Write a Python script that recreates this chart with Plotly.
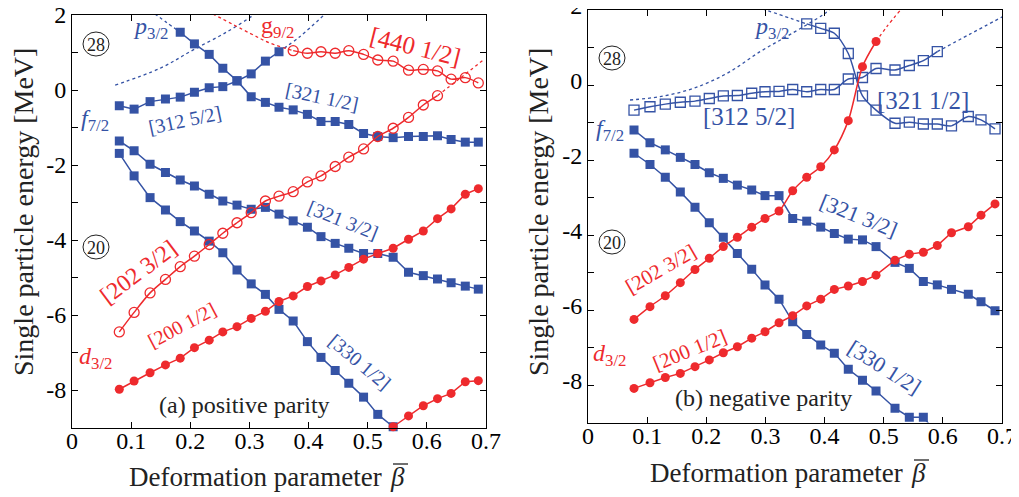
import plotly.graph_objects as go

# ---------------- data ----------------
BETA_L = [0.080, 0.105, 0.132, 0.158, 0.183, 0.207, 0.232, 0.255, 0.279, 0.303,
          0.327, 0.350, 0.374, 0.398, 0.421, 0.445, 0.468, 0.493, 0.517, 0.543,
          0.569, 0.594, 0.618, 0.641, 0.665, 0.687]
BETA_R = [0.0778, 0.1048, 0.1307, 0.1561, 0.1809, 0.2051, 0.2288, 0.2525, 0.2768, 0.2993,
          0.3230, 0.3461, 0.3698, 0.3935, 0.4165, 0.4401, 0.4641, 0.4870, 0.5191, 0.5433,
          0.5670, 0.5906, 0.6146, 0.6430, 0.6645, 0.6882]

# (a) positive parity
L_200_12 = [-7.98, -7.76, -7.54, -7.33, -7.15, -6.87, -6.67, -6.45, -6.31, -6.09, -5.90, -5.64, -5.49,
            -5.24, -5.09, -4.93, -4.73, -4.51, -4.36, -4.22, -3.98, -3.76, -3.43, -3.17, -2.78, -2.63]
L_LOW_RED = [-8.98, -8.69, -8.42, -8.23, -8.09, -7.78, -7.75]          # beta index 19..25
L_330_12 = [-1.69, -2.29, -2.87, -3.20, -3.51, -3.76, -4.03, -4.34, -4.80, -5.17, -5.45, -5.85,
            -6.16, -6.71, -7.13, -7.48, -7.82, -8.19, -8.65, -8.98]       # index 0..19
L_321_32 = [-1.36, -1.62, -1.98, -2.20, -2.40, -2.56, -2.78, -2.96, -3.07, -3.18, -3.13, -3.31, -3.49,
            -3.66, -3.91, -4.09, -4.22, -4.36, -4.36, -4.46, -4.86, -4.95, -5.04, -5.14, -5.23, -5.31]
L_312_52 = [-0.42, -0.51, -0.31, -0.24, -0.19, -0.06, 0.06, 0.09, 0.24, 0.43, 0.77, 1.02]   # 0..11
L_321_12 = [1.54, 1.23, 0.95, 0.58, 0.25, -0.18, -0.33, -0.46, -0.53, -0.65, -0.84, -0.84, -0.92,
            -1.16, -1.24, -1.27, -1.24, -1.24, -1.22, -1.32, -1.39, -1.39]               # 4..25
L_440_12 = [1.05, 0.98, 1.02, 0.98, 1.05, 0.95, 0.80, 0.77, 0.53, 0.55, 0.51, 0.29, 0.33, 0.19]  # 12..25
L_202_32 = [-6.45, -5.93, -5.41, -5.05, -4.71, -4.43, -4.12, -3.82, -3.54, -3.27, -2.96, -2.83,
            -2.71, -2.45, -2.29, -2.04, -1.79, -1.57, -1.24, -1.02, -0.73, -0.40, -0.15]  # 0..22

# dotted (continuation) curves, panel (a)
DL_F72_X = [0.073, 0.149, 0.205, 0.262, 0.304, 0.308]
DL_F72_Y = [0.13, 0.58, 1.07, 1.55, 1.97, 2.03]
DL_P32_X = [0.140, 0.160, 0.183]
DL_P32_Y = [2.03, 1.80, 1.54]
DL_UP_X = [0.350, 0.385, 0.428]
DL_UP_Y = [1.02, 1.42, 2.03]
DL_G92_X = [0.238, 0.300, 0.335, 0.374]
DL_G92_Y = [2.03, 1.52, 1.25, 1.05]
DL_202_X = [0.618, 0.655, 0.697]
DL_202_Y = [-0.15, 0.30, 0.82]

# (b) negative parity
R_312_52 = [-0.67, -0.58, -0.51, -0.46, -0.43, -0.36, -0.29, -0.28, -0.22, -0.18, -0.17, -0.12,
            -0.18, -0.12, -0.12, 0.16, 0.20, 0.44, 0.40, 0.52, 0.65, 0.89]              # 0..21
R_321_12 = [1.63, 1.51, 1.38, 0.84, -0.29, -0.67, -1.02, -0.99, -1.04, -1.04, -1.09, -0.84,
            -0.93, -1.17]                                                                  # 12..25
R_202_32 = [-6.25, -5.91, -5.62, -5.27, -4.92, -4.62, -4.31, -4.06, -3.79, -3.56, -3.36, -2.82,
            -2.46, -2.18, -1.73, -0.95, 0.49, 1.16]                                        # 0..17
R_321_32 = [-1.20, -1.54, -1.73, -1.93, -2.12, -2.34, -2.49, -2.67, -2.80, -2.95, -2.95, -3.56,
            -3.63, -3.79, -3.96, -4.11, -4.13, -4.31, -4.73, -4.89, -5.24, -5.33, -5.45, -5.58,
            -5.78, -6.02]
R_330_12 = [-1.82, -2.12, -2.46, -2.85, -3.26, -3.67, -4.06, -4.49, -4.91, -5.33, -5.71, -6.31,
            -6.65, -6.93, -7.15, -7.58, -7.87, -8.16, -8.62, -8.86, -8.86, -9.30]          # 0..21
R_200_12 = [-8.09, -7.94, -7.80, -7.69, -7.51, -7.33, -7.14, -6.98, -6.75, -6.58, -6.34, -6.15,
            -5.89, -5.71, -5.45, -5.36, -5.24, -5.07, -4.67, -4.51, -4.46, -4.28, -3.94, -3.78,
            -3.47, -3.17]

DR_F72_X = [0.071, 0.122, 0.178, 0.235, 0.291, 0.342, 0.397, 0.410]
DR_F72_Y = [-0.40, -0.31, -0.09, 0.31, 0.89, 1.35, 1.87, 2.03]
DR_P32_X = [0.295, 0.342, 0.3698]
DR_P32_Y = [2.03, 1.78, 1.63]
DR_UP_X = [0.5906, 0.645, 0.702]
DR_UP_Y = [0.89, 1.35, 1.83]
DR_202_X = [0.487, 0.505, 0.530]
DR_202_Y = [1.16, 1.55, 2.03]

X_TICKS = [0, 0.1, 0.2, 0.3, 0.4, 0.5, 0.6, 0.7]
X_LABELS = ["0", "0.1", "0.2", "0.3", "0.4", "0.5", "0.6", "0.7"]
Y_TICKS = [-8, -7, -6, -5, -4, -3, -2, -1, 0, 1, 2]
Y_LABELS = ["-8", "", "-6", "", "-4", "", "-2", "", "0", "", "2"]

# ---------------- style ----------------
BLUE = "#3553A5"
RED = "#EE2A2D"
SERIF = "Liberation Serif"
# the page body adds an 8 px margin, so the figure is drawn 8 px smaller and
# all layout positions (given in window pixels) are shifted by that margin
OFF = 8
W, H = 1019 - OFF, 497 - OFF


def fx(px):
    return (px - OFF) / W


def fy(py):
    return 1 - (py - OFF) / H


fig = go.Figure()


def series(xs, ys, panel, color, symbol, shape="linear", size=9, clip=False):
    xa, ya = ("x", "y") if panel == 1 else ("x2", "y2")
    is_open = symbol.endswith("-open")
    fig.add_trace(go.Scatter(
        x=xs, y=ys, xaxis=xa, yaxis=ya, mode="lines+markers",
        line=dict(color=color, width=1.5, shape=shape, smoothing=0.8),
        marker=dict(symbol=symbol, size=size, color=color,
                    line=dict(color=color, width=1.3 if is_open else 0)),
        cliponaxis=clip, showlegend=False, hoverinfo="skip"))


def dotted(xs, ys, panel, color):
    xa, ya = ("x", "y") if panel == 1 else ("x2", "y2")
    fig.add_trace(go.Scatter(
        x=xs, y=ys, xaxis=xa, yaxis=ya, mode="lines",
        line=dict(color=color, width=1.3, dash="3px,3px", shape="spline"),
        showlegend=False, hoverinfo="skip"))


# panel (a)
dotted(DL_F72_X, DL_F72_Y, 1, BLUE)
dotted(DL_P32_X, DL_P32_Y, 1, BLUE)
dotted(DL_UP_X, DL_UP_Y, 1, BLUE)
dotted(DL_G92_X, DL_G92_Y, 1, RED)
dotted(DL_202_X, DL_202_Y, 1, RED)
series(BETA_L[0:12], L_312_52, 1, BLUE, "square")
series(BETA_L[4:26], L_321_12, 1, BLUE, "square")
series(BETA_L, L_321_32, 1, BLUE, "square")
series(BETA_L[0:20], L_330_12, 1, BLUE, "square")
series(BETA_L, L_200_12, 1, RED, "circle")
series(BETA_L[19:26], L_LOW_RED, 1, RED, "circle")
series(BETA_L[12:26], L_440_12, 1, RED, "circle-open", shape="spline", size=10)
series(BETA_L[0:23], L_202_32, 1, RED, "circle-open", shape="spline", size=10)

# panel (b)
dotted(DR_F72_X, DR_F72_Y, 2, BLUE)
dotted(DR_P32_X, DR_P32_Y, 2, BLUE)
dotted(DR_UP_X, DR_UP_Y, 2, BLUE)
dotted(DR_202_X, DR_202_Y, 2, RED)
series(BETA_R[0:22], R_312_52, 2, BLUE, "square-open", shape="spline", size=10)
series(BETA_R[12:26], R_321_12, 2, BLUE, "square-open", shape="spline", size=10)
series(BETA_R, R_321_32, 2, BLUE, "square")
series(BETA_R[0:22], R_330_12, 2, BLUE, "square", clip=True)
series(BETA_R, R_200_12, 2, RED, "circle")
series(BETA_R[0:18], R_202_32, 2, RED, "circle", shape="spline")


# ---------------- axes ----------------
def xaxis(domain, anchor):
    return dict(domain=domain, anchor=anchor, range=[0, 0.7], tickvals=X_TICKS, ticktext=X_LABELS,
                ticks="inside", ticklen=6, tickwidth=1, tickcolor="black", mirror="ticks",
                showline=True, linecolor="black", linewidth=1, showgrid=False, zeroline=False,
                automargin=False, ticklabeloverflow="allow", ticklabelstandoff=-8,
                tickfont=dict(family=SERIF, size=24, color="black"))


def yaxis(domain, anchor, shift=0):
    return dict(domain=domain, anchor=anchor, range=[-9, 2], tickvals=Y_TICKS, ticktext=Y_LABELS,
                ticks="inside", ticklen=6, tickwidth=1, tickcolor="black", mirror="ticks",
                showline=True, linecolor="black", linewidth=1, showgrid=False, zeroline=False,
                automargin=False, ticklabeloverflow="allow", ticklabelshift=shift,
                tickfont=dict(family=SERIF, size=24, color="black"))


ann = []
shapes = []


def label(text, x, y, panel, color, size=20, angle=0):
    ann.append(dict(text=text, x=x, y=y, xref="x" if panel == 1 else "x2",
                    yref="y" if panel == 1 else "y2", showarrow=False, textangle=angle,
                    xanchor="center", yanchor="middle",
                    font=dict(family=SERIF, size=size, color=color)))


def circled(num, cx, cy):
    # circled shell-closure number, centre given in window pixels
    rx, ry = 13, 12
    shapes.append(dict(type="circle", xref="paper", yref="paper",
                       x0=fx(cx - rx), x1=fx(cx + rx), y0=fy(cy + ry), y1=fy(cy - ry),
                       line=dict(color="#222222", width=1)))
    ann.append(dict(text=num, x=fx(cx), y=fy(cy + 1), xref="paper", yref="paper",
                    showarrow=False, xanchor="center", yanchor="middle",
                    font=dict(family=SERIF, size=18, color="#222222")))


# panel (a) labels
label("<i>p</i><sub>3/2</sub>", 0.132, 1.65, 1, BLUE, 24)
label("<i>f</i><sub>7/2</sub>", 0.039, -0.80, 1, BLUE, 24)
label("[312 5/2]", 0.191, -0.80, 1, BLUE, 20, -12)
label("[321 1/2]", 0.423, -0.19, 1, BLUE, 20, 12)
label("[440 1/2]", 0.580, 1.15, 1, RED, 25, 14)
label("g<sub>9/2</sub>", 0.347, 1.68, 1, RED, 24)
label("[321 3/2]", 0.458, -3.47, 1, BLUE, 20, 22)
label("[202 3/2]", 0.112, -4.85, 1, RED, 24, -37)
label("[200 1/2]", 0.186, -6.27, 1, RED, 20, -28)
label("<i>d</i><sub>3/2</sub>", 0.039, -7.15, 1, RED, 24)
label("[330 1/2]", 0.487, -7.25, 1, BLUE, 20, 40)
label("(a) positive parity", 0.2925, -8.40, 1, "#222222", 24)
circled("28", 96, 44)
circled("20", 96, 247)

# panel (b) labels
label("<i>p</i><sub>3/2</sub>", 0.311, 1.52, 2, BLUE, 24)
label("<i>f</i><sub>7/2</sub>", 0.037, -1.20, 2, BLUE, 24)
label("[312 5/2]", 0.272, -0.83, 2, BLUE, 25)
label("[321 1/2]", 0.566, -0.40, 2, BLUE, 25)
label("[321 3/2]", 0.457, -3.49, 2, BLUE, 22, 22)
label("[202 3/2]", 0.123, -4.91, 2, RED, 21, -30)
label("[200 1/2]", 0.172, -7.07, 2, RED, 21, -22)
label("<i>d</i><sub>3/2</sub>", 0.037, -7.20, 2, RED, 24)
label("[330 1/2]", 0.502, -7.52, 2, BLUE, 22, 32)
label("(b) negative parity", 0.296, -8.35, 2, "#222222", 24)
circled("28", 612, 58)
circled("20", 612, 242)

# axis titles
for (px, py) in [(23, 212), (538, 212)]:
    ann.append(dict(text="Single particle energy [MeV]", x=fx(px), y=fy(py),
                    xref="paper", yref="paper", showarrow=False, textangle=-90,
                    xanchor="center", yanchor="middle",
                    font=dict(family=SERIF, size=28, color="#222222")))
for (bx, py, bar_y) in [(388, 477, 464), (909, 473, 460)]:
    ann.append(dict(text="Deformation parameter", x=fx(bx - 4), y=fy(py),
                    xref="paper", yref="paper", showarrow=False,
                    xanchor="right", yanchor="middle",
                    font=dict(family=SERIF, size=27, color="#222222")))
    ann.append(dict(text="<i>β</i>", x=fx(bx), y=fy(py),
                    xref="paper", yref="paper", showarrow=False,
                    xanchor="left", yanchor="middle",
                    font=dict(family=SERIF, size=27, color="#222222")))
    shapes.append(dict(type="line", xref="paper", yref="paper",
                       x0=fx(bx + 5), x1=fx(bx + 20), y0=fy(bar_y), y1=fy(bar_y),
                       line=dict(color="#222222", width=1.3)))

fig.update_layout(
    width=W, height=H, margin=dict(l=0, r=0, t=0, b=0, autoexpand=False),
    paper_bgcolor="white", plot_bgcolor="white",
    xaxis=xaxis([fx(72), fx(486)], "y"),
    yaxis=yaxis([fy(427.5), fy(15)], "x"),
    xaxis2=xaxis([fx(588), fx(1002)], "y2"),
    yaxis2=yaxis([fy(422.5), fy(10)], "x2", shift=-4),
    annotations=ann, shapes=shapes, showlegend=False,
)

fig.write_html("out.html")
